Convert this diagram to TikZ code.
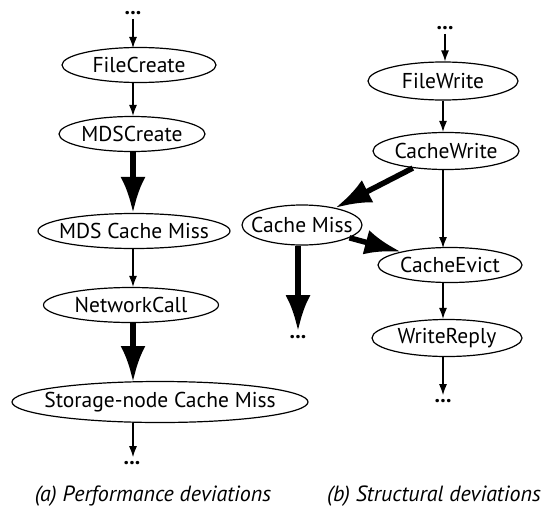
\documentclass[tikz,border=0pt]{standalone}
\usepackage{fontspec}
\setmainfont{PT Sans}
\usetikzlibrary{shapes.geometric,arrows.meta}
\newcommand{\lbl}[1]{\makebox[0pt]{#1}}
\tikzset{
  ev/.style={draw, ellipse, line width=1.2pt, inner sep=0pt, font=\fontsize{21.5}{24}\selectfont},
  dots/.style={inner sep=0pt, font=\fontsize{22}{24}\selectfont\bfseries},
  thinarr/.style={line width=1.2pt, -{Latex[length=11pt,width=8pt]}},
  thickarr/.style={line width=5.5pt, -{Latex[length=36pt,width=25pt]}},
  captxt/.style={font=\fontsize{22}{24}\selectfont\itshape}
}
\begin{document}
\begin{tikzpicture}[x=1pt,y=-1pt]
\useasboundingbox (0,0) rectangle (545,511);
% left column
\node[dots] (d1) at (133,13) {...};
\node[ev, minimum width=154pt, minimum height=35pt] (fc) at (139,65) {\lbl{FileCreate}};
\node[ev, minimum width=146pt, minimum height=35pt] (mc) at (132,134) {\lbl{MDSCreate}};
\node[ev, minimum width=192pt, minimum height=35pt] (mm) at (134,231) {\lbl{MDS Cache Miss}};
\node[ev, minimum width=175pt, minimum height=35pt] (nc) at (131,305) {\lbl{NetworkCall}};
\node[ev, minimum width=296pt, minimum height=41pt] (st) at (160,402) {\lbl{Storage-node Cache Miss}};
\node[dots] (d2) at (132,463) {...};
\node[captxt] (ca) at (153,496) {(a) Performance deviations};
\draw[thinarr] (d1.south -| 133,0) ++(0,4) -- (133,48);
\draw[thinarr] (fc.south -| 133,0) -- (mc.north -| 133,0);
\draw[thickarr] (mc.south -| 133,0) -- (mm.north -| 133,0);
\draw[thinarr] (mm.south -| 133,0) -- (nc.north -| 133,0);
\draw[thickarr] (nc.south -| 133,0) -- (133,382);
\draw[thinarr] (133,423) -- ([yshift=4pt]d2.north -| 133,0);
% right column
\node[dots] (d3) at (445,28) {...};
\node[ev, minimum width=150pt, minimum height=38pt] (fw) at (443,81) {\lbl{FileWrite}};
\node[ev, minimum width=146pt, minimum height=37pt] (cw) at (446,151) {\lbl{CacheWrite}};
\node[ev, minimum width=120pt, minimum height=40pt] (cm) at (302,225) {\lbl{Cache Miss}};
\node[ev, minimum width=144pt, minimum height=35pt] (ce) at (450,265) {\lbl{CacheEvict}};
\node[ev, minimum width=150pt, minimum height=37pt] (wr) at (447,338) {\lbl{WriteReply}};
\node[dots] (d4) at (298,337) {...};
\node[dots] (d5) at (443,401) {...};
\node[captxt] (cb) at (434,496) {(b) Structural deviations};
\draw[thinarr] ([yshift=-4pt]d3.south) -- (fw.north -| d3.south);
\draw[thinarr] (fw.south -| 443,0) -- (cw.north -| 443,0);
\draw[thickarr] (cw) -- (cm);
\draw[thinarr] (cw.south -| 443,0) -- (443,248);
\draw[thickarr] (cm) -- (ce);
\draw[thickarr] (cm.south -| 298,0) -- ([yshift=4pt]d4.north -| 298,0);
\draw[thinarr] (ce.south -| 443,0) -- (wr.north -| 443,0);
\draw[thinarr] (wr.south -| 443,0) -- ([yshift=4pt]d5.north -| 443,0);
\end{tikzpicture}
\end{document}
